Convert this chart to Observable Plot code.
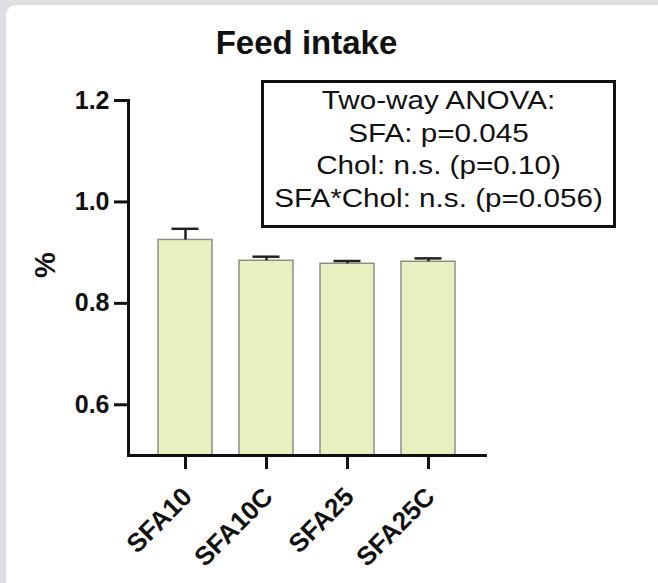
<!DOCTYPE html>
<html>
<head>
<meta charset="utf-8">
<script src="https://cdn.jsdelivr.net/npm/d3@7"></script>
<script src="https://cdn.jsdelivr.net/npm/@observablehq/plot@0.6"></script>
<style>
  html, body { margin: 0; padding: 0; width: 658px; height: 583px; overflow: hidden; background: #dddee2; font-family: "Liberation Sans", Arial, sans-serif; }
  #card { position: absolute; left: 6px; top: 5px; width: 720px; height: 640px; background: #ffffff; border-radius: 10px; }
  #title { position: absolute; left: 0; top: 26px; width: 613px; text-align: center; font-weight: bold; font-size: 33px; line-height: 33px; color: #111; }
  #plot { position: absolute; left: 0; top: 0; }
  #anova { position: absolute; left: 261px; top: 80px; width: 355px; height: 148px; box-sizing: border-box; border: 3px solid #111; background: #fff; padding-top: 1px; }
  #anova div { text-align: center; font-size: 26px; line-height: 32.5px; color: #111; white-space: nowrap; transform: scaleX(1.14); transform-origin: center; }
</style>
</head>
<body>
<div id="card"></div>
<div id="plot"></div>
<div id="title"></div>
<div id="anova"></div>
<script>
const titleText = "Feed intake";
const categories = ["SFA10", "SFA10C", "SFA25", "SFA25C"];
const means = [0.925, 0.884, 0.878, 0.882];
const errors = [0.022, 0.008, 0.0055, 0.0067];
const yTicks = [0.6, 0.8, 1.0, 1.2];
const yLabel = "%";
const anovaLines = ["Two-way ANOVA:", "SFA: p=0.045", "Chol: n.s. (p=0.10)", "SFA*Chol: n.s. (p=0.056)"];

const data = categories.map((c, i) => ({group: c, mean: means[i], err: errors[i]}));

document.getElementById("title").textContent = titleText;
const box = document.getElementById("anova");
for (const line of anovaLines) {
  const d = document.createElement("div");
  d.textContent = line;
  box.appendChild(d);
}

const chart = Plot.plot({
  width: 658,
  height: 583,
  marginLeft: 128,
  marginRight: 173,
  marginTop: 100,
  marginBottom: 128,
  style: {background: "transparent", fontFamily: "'Liberation Sans', Arial, sans-serif", color: "#111", overflow: "visible"},
  x: {domain: categories, paddingInner: 0.33, paddingOuter: 0.355, label: null},
  y: {domain: [0.5, 1.2], label: null},
  marks: [
    Plot.barY(data, {x: "group", y1: 0.5, y2: "mean", fill: "#e9efbf", stroke: "#8e8e86", strokeWidth: 1.5}),
    Plot.ruleX(data, {x: "group", y1: "mean", y2: d => d.mean + d.err, stroke: "#222", strokeWidth: 2.5}),
    Plot.tickY(data, {x: "group", y: d => d.mean + d.err, stroke: "#222", strokeWidth: 2.5, insetLeft: 13.5, insetRight: 13.5}),
    Plot.axisY({ticks: yTicks, tickFormat: d3.format(".1f"), tickSize: 14, tickPadding: 5, fontSize: 25, fontWeight: "bold", strokeWidth: 3, label: null}),
    Plot.axisX({tickSize: 14, tickFormat: () => "", strokeWidth: 3, label: null}),
    Plot.axisX({tickSize: 0, tickPadding: 22, dy: 15, dx: 2, tickRotate: -45, fontSize: 26, fontWeight: "bold", label: null}),
    Plot.frame({anchor: "left", strokeWidth: 3, stroke: "#111"}),
    Plot.frame({anchor: "bottom", strokeWidth: 3, stroke: "#111"}),
    Plot.text([yLabel], {frameAnchor: "left", dx: -83, rotate: -90, fontSize: 29, fontWeight: "bold", fill: "#111"})
  ]
});
document.getElementById("plot").appendChild(chart);
</script>
</body>
</html>
